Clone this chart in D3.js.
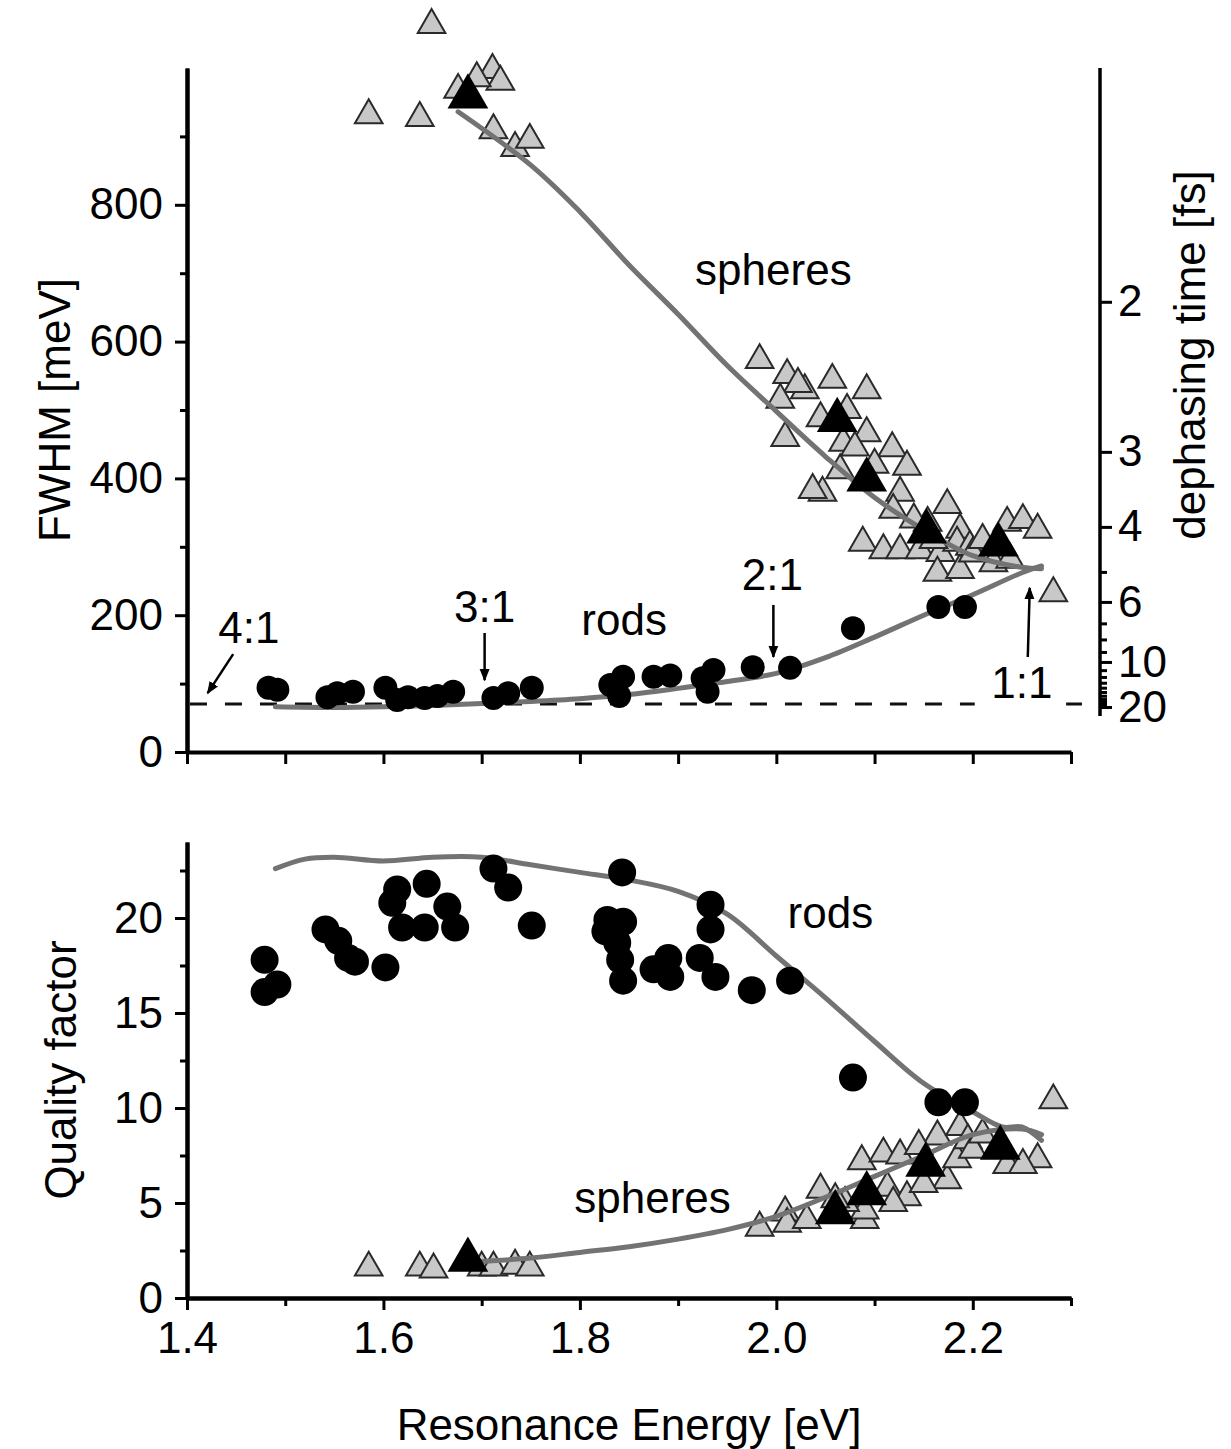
<!DOCTYPE html>
<html><head><meta charset="utf-8">
<script src="https://cdn.jsdelivr.net/npm/d3@7"></script>
<style>
body{margin:0;background:#fff}
text{font-family:"Liberation Sans",Arial,Helvetica,sans-serif;fill:#000}
.ax .domain{stroke:#000;stroke-width:4}
.ax .tick line{stroke:#000;stroke-width:3}
.ax .tick text{font-size:44px}
</style>
</head><body>
<svg id="c" width="1231" height="1449"></svg>
<script>
// ---------------- data ----------------
const xMajorTicks = [1.4, 1.6, 1.8, 2.0, 2.2];
const xMinorTicks = [1.5, 1.7, 1.9, 2.1, 2.3];
const fwhmMajorTicks = [0, 200, 400, 600, 800];
const fwhmMinorTicks = [100, 300, 500, 700, 900];
const qMajorTicks = [0, 5, 10, 15, 20];
const qMinorTicks = [2.5, 7.5, 12.5, 17.5, 22.5];
const dephaseMajorTicks = [2, 3, 4, 6, 10, 20];
const dephaseMinorTicks = [5, 7, 8, 9, 11, 12, 13, 14, 15, 16, 17, 18, 19];
const HBAR2 = 1316.4; // 2*hbar in meV*fs  (dephasing time = 2hbar / FWHM)

// top panel: single spheres (gray triangles)
const sphereE = [1.649,1.585,1.637,1.711,1.719,1.695,1.676,1.712,1.734,1.749,
  1.983,2.011,2.029,2.022,2.057,2.092,2.004,2.009,2.045,2.072,2.092,2.068,2.118,2.133,2.065,
  2.047,2.037,2.126,2.119,2.174,2.154,2.187,2.088,2.109,2.126,2.146,2.167,2.184,2.164,2.187,
  2.197,2.235,2.251,2.266,2.221,2.238,2.282,2.100,2.080,2.140,2.200,2.210,2.160];
const sphereFWHM = [1063,931,927,997,980,985,968,909,883,895,
  573,551,529,538,544,529,515,459,488,500,466,452,444,417,412,
  379,383,379,354,361,335,325,306,295,295,295,291,306,262,266,
  300,335,339,325,276,281,232,420,445,340,290,310,310];
// top panel: averaged spheres (black triangles)
const sphereAvgE = [1.686, 2.062, 2.092, 2.153, 2.226];
const sphereAvgFWHM = [958, 485, 398, 322, 303];
// top panel: rods (black circles)
const rodE = [1.483,1.492,1.543,1.553,1.569,1.602,1.614,1.625,1.642,1.655,1.671,1.712,1.727,1.751,
  1.831,1.844,1.836,1.840,1.875,1.892,1.925,1.936,1.930,1.976,2.014,2.078,2.165,2.192];
const rodFWHM = [94,91,80,86,88,94,76,80,79,82,88,79,86,94,
  98,110,95,82,110,112,108,120,88,124,123,181,212,212];
// top panel: model curves
const sphereFitE = [1.676,1.75,1.80,1.85,1.90,1.95,2.00,2.05,2.10,2.15,2.20,2.25,2.27];
const sphereFitFWHM = [936,858,790,712,640,565,498,432,372,325,287,270,268];
const rodFitE = [1.49,1.55,1.60,1.65,1.70,1.75,1.80,1.85,1.90,1.95,2.00,2.05,2.10,2.15,2.20,2.25,2.27];
const rodFitFWHM = [66,65,66,68,71,74,78,84,93,103,115,138,168,200,230,262,272];
const dashedLevel = 70;

// bottom panel: rods quality factor (black circles)
const rodQE = [1.479,1.492,1.479,1.541,1.554,1.564,1.571,1.602,1.614,1.609,1.644,1.665,1.619,1.642,1.673,
  1.712,1.727,1.751,1.843,1.828,1.844,1.826,1.838,1.841,1.844,1.875,1.890,1.892,
  1.933,1.933,1.922,1.938,1.975,2.014,2.078,2.165,2.192];
const rodQ = [17.8,16.5,16.1,19.4,18.8,17.9,17.7,17.4,21.5,20.8,21.8,20.6,19.5,19.5,19.5,
  22.6,21.6,19.6,22.4,19.9,19.8,19.3,18.7,17.8,16.7,17.3,17.9,16.9,
  20.7,19.4,17.9,16.9,16.2,16.7,11.6,10.3,10.3];
// bottom panel: spheres quality factor (gray triangles)
const sphereQE = [1.585,1.637,1.651,1.700,1.712,1.734,1.749,1.983,2.009,2.011,2.031,2.045,2.087,2.109,2.126,
  2.090,2.090,2.113,2.133,2.119,2.164,2.187,2.145,2.174,2.184,2.195,2.266,2.282,2.235,2.251,
  2.070,2.060,2.150,2.200,2.210];
const sphereQ = [1.6,1.6,1.5,1.6,1.6,1.7,1.6,3.7,4.5,3.9,4.1,5.7,7.2,7.6,7.5,
  4.1,4.6,5.8,5.3,5.0,8.5,9.0,8.0,6.2,7.3,8.3,7.3,10.4,7.0,7.0,
  5.0,5.2,6.0,7.8,8.6];
const sphereAvgQE = [1.686, 2.060, 2.092, 2.152, 2.228];
const sphereAvgQ = [2.0, 4.5, 5.5, 7.0, 7.9];
// bottom panel: model curves
const rodQFitE = [1.49,1.52,1.55,1.60,1.65,1.70,1.75,1.80,1.85,1.90,1.95,2.00,2.05,2.10,2.15,2.20,2.23,2.25,2.27];
const rodQFit = [22.6,23.1,23.2,23.0,23.2,23.2,22.8,22.4,22.0,21.4,20.2,18.0,15.8,13.5,11.3,9.8,9.0,9.0,8.3];
const sphereQFitE = [1.69,1.75,1.80,1.85,1.90,1.95,2.00,2.05,2.10,2.15,2.20,2.25,2.27];
const sphereQFit = [1.9,2.1,2.4,2.7,3.1,3.6,4.3,5.3,6.4,7.5,8.6,8.9,8.6];

// ---------------- drawing ----------------
const svg = d3.select("#c");
const x = d3.scaleLinear().domain([1.4, 2.3]).range([187, 1071]);
const yT = d3.scaleLinear().domain([0, 1000]).range([752, 68]);
const yB = d3.scaleLinear().domain([0, 24]).range([1298, 842]);
const xRight = 1100;

const defs = svg.append("defs");
defs.append("marker").attr("id","ah").attr("viewBox","0 0 10 10").attr("refX",9).attr("refY",5)
  .attr("markerWidth",5).attr("markerHeight",5).attr("markerUnits","strokeWidth").attr("orient","auto")
  .append("path").attr("d","M0,1 L10,5 L0,9 z").attr("fill","#000");

const zip = (a,b) => a.map((v,i)=>[v,b[i]]);
const triS = d3.symbol(d3.symbolTriangle, 330);
const triL = d3.symbol(d3.symbolTriangle, 720);

function panel(y, sphPts, avgPts, rodPts, fits, rodR) {
  const g = svg.append("g");
  g.selectAll(null).data(sphPts).join("path")
    .attr("d", triS).attr("transform", d=>`translate(${x(d[0])},${y(d[1])})`)
    .attr("fill","#c8c8c8").attr("stroke","#2a2a2a").attr("stroke-width",2);
  const line = d3.line().x(d=>x(d[0])).y(d=>y(d[1])).curve(d3.curveCatmullRom.alpha(0.5));
  fits.forEach(f => g.append("path").attr("d", line(f)).attr("fill","none")
     .attr("stroke","#737373").attr("stroke-width",5).attr("stroke-linecap","round"));
  g.selectAll(null).data(avgPts).join("path")
    .attr("d", triL).attr("transform", d=>`translate(${x(d[0])},${y(d[1])})`)
    .attr("fill","#000");
  g.selectAll(null).data(rodPts).join("circle")
    .attr("cx", d=>x(d[0])).attr("cy", d=>y(d[1])).attr("r", rodR).attr("fill","#000");
}

// ===== top panel =====
svg.append("line").attr("x1", x(1.403)).attr("x2", x(2.32))
  .attr("y1", yT(dashedLevel)).attr("y2", yT(dashedLevel))
  .attr("stroke","#111").attr("stroke-width",3).attr("stroke-dasharray","17,18");

panel(yT, zip(sphereE, sphereFWHM), zip(sphereAvgE, sphereAvgFWHM), zip(rodE, rodFWHM),
      [zip(sphereFitE, sphereFitFWHM), zip(rodFitE, rodFitFWHM)], 12);

svg.append("g").attr("class","ax").attr("transform",`translate(0,${yT(0)})`)
  .call(d3.axisBottom(x).tickValues(xMajorTicks.concat(xMinorTicks)).tickSize(12).tickSizeOuter(0).tickFormat(""));
svg.append("g").attr("class","ax").attr("transform",`translate(${x(1.4)},0)`)
  .call(d3.axisLeft(yT).tickValues(fwhmMinorTicks).tickSize(7).tickSizeOuter(0).tickFormat(""));
svg.append("g").attr("class","ax").attr("transform",`translate(${x(1.4)},0)`)
  .call(d3.axisLeft(yT).tickValues(fwhmMajorTicks).tickSize(12).tickSizeOuter(0).tickPadding(12).tickFormat(d3.format("d")));

const gR = svg.append("g").attr("class","ax").attr("transform",`translate(${xRight},0)`);
gR.call(d3.axisRight(yT).tickValues(dephaseMinorTicks.map(t=>HBAR2/t)).tickSize(7).tickFormat(""));
gR.call(g=>g.select(".domain").remove());
const gR2 = svg.append("g").attr("class","ax").attr("transform",`translate(${xRight},0)`);
gR2.call(d3.axisRight(yT).tickValues(dephaseMajorTicks.map(t=>HBAR2/t)).tickSize(12).tickPadding(6)
  .tickFormat(g=>String(Math.round(HBAR2/g))));
gR2.call(g=>g.select(".domain").remove());
svg.append("line").attr("x1",xRight).attr("x2",xRight).attr("y1",yT(1000)).attr("y2",yT(HBAR2/20)+9)
  .attr("stroke","#000").attr("stroke-width",3.5);

svg.append("text").attr("transform",`translate(70,${(yT(0)+yT(1000))/2})rotate(-90)`)
  .attr("text-anchor","middle").attr("font-size",44).text("FWHM [meV]");
svg.append("text").attr("transform",`translate(1205,355)rotate(-90)`)
  .attr("text-anchor","middle").attr("font-size",44).text("dephasing time [fs]");

function label(t, e, v, y, anchor="middle") {
  return svg.append("text").attr("x", x(e)).attr("y", y(v)).attr("text-anchor", anchor)
    .attr("font-size",44).text(t);
}
function arrow(e1, v1, e2, v2, y) {
  svg.append("line").attr("x1",x(e1)).attr("y1",y(v1)).attr("x2",x(e2)).attr("y2",y(v2))
    .attr("stroke","#000").attr("stroke-width",2.5).attr("marker-end","url(#ah)");
}
label("spheres", 1.997, 683, yT);
label("rods", 1.845, 171, yT);
label("4:1", 1.463, 159, yT);
arrow(1.447, 143, 1.421, 86, yT);
label("3:1", 1.703, 190, yT);
arrow(1.703, 174, 1.703, 105, yT);
label("2:1", 1.996, 237, yT);
arrow(1.997, 215, 1.997, 139, yT);
svg.append("rect").attr("x", x(2.202)).attr("y", yT(135)).attr("width", x(2.295)-x(2.202))
  .attr("height", yT(55)-yT(135)).attr("fill","#fff");
label("1:1", 2.250, 79, yT);
arrow(2.256, 139, 2.258, 240, yT);

// ===== bottom panel =====
panel(yB, zip(sphereQE, sphereQ), zip(sphereAvgQE, sphereAvgQ), zip(rodQE, rodQ),
      [zip(rodQFitE, rodQFit), zip(sphereQFitE, sphereQFit)], 14);

svg.append("g").attr("class","ax").attr("transform",`translate(0,${yB(0)})`)
  .call(d3.axisBottom(x).tickValues(xMinorTicks).tickSize(8).tickSizeOuter(0).tickFormat(""));
svg.append("g").attr("class","ax").attr("transform",`translate(0,${yB(0)})`)
  .call(d3.axisBottom(x).tickValues(xMajorTicks).tickSize(12).tickSizeOuter(0).tickPadding(12).tickFormat(d3.format(".1f")));
svg.append("g").attr("class","ax").attr("transform",`translate(${x(1.4)},0)`)
  .call(d3.axisLeft(yB).tickValues(qMinorTicks).tickSize(7).tickSizeOuter(0).tickFormat(""));
svg.append("g").attr("class","ax").attr("transform",`translate(${x(1.4)},0)`)
  .call(d3.axisLeft(yB).tickValues(qMajorTicks).tickSize(12).tickSizeOuter(0).tickPadding(12).tickFormat(d3.format("d")));

svg.append("text").attr("transform",`translate(76,${(yB(0)+yB(24))/2})rotate(-90)`)
  .attr("text-anchor","middle").attr("font-size",44).text("Quality factor");
svg.append("text").attr("x", (x(1.4)+x(2.3))/2).attr("y", 1440)
  .attr("text-anchor","middle").attr("font-size",44).text("Resonance Energy [eV]");

label("rods", 2.055, 19.5, yB);
label("spheres", 1.874, 4.5, yB);
</script>
</body></html>
